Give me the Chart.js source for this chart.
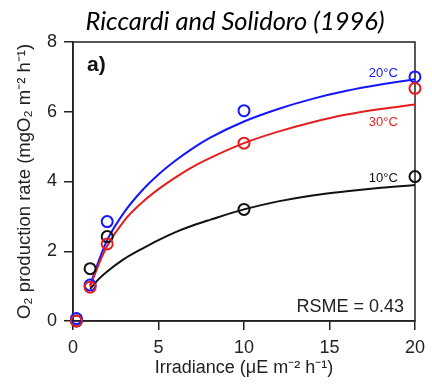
<!DOCTYPE html>
<html>
<head>
<meta charset="utf-8">
<script src="https://cdn.jsdelivr.net/npm/chart.js@4.4.1/dist/chart.umd.min.js"></script>
<style>
  html, body { margin: 0; padding: 0; background: #fff; }
  #wrap { width: 432px; height: 386px; }
</style>
</head>
<body>
<div id="wrap"><canvas id="chart" width="432" height="386"></canvas></div>
<script>
// observed points (irradiance vs O2 production)
const obsX = [0.2, 1, 2, 10, 20];
const obs10 = [0.0, 1.5, 2.42, 3.2, 4.14];
const obs20 = [0.07, 1.03, 2.85, 6.03, 7.0];
const obs30 = [0.0, 0.97, 2.21, 5.1, 6.67];

// fitted curves
const fitX = [1, 1.5, 2, 3, 4, 5, 6, 7, 8, 10, 12, 14, 16, 18, 20];
const fit10 = [0.92, 1.2, 1.42, 1.78, 2.06, 2.32, 2.55, 2.74, 2.9, 3.2, 3.43, 3.6, 3.72, 3.82, 3.9];
const fit20 = [1.02, 1.72, 2.32, 3.12, 3.72, 4.2, 4.6, 4.95, 5.25, 5.72, 6.08, 6.37, 6.6, 6.78, 6.93];
const fit30 = [0.98, 1.62, 2.15, 2.88, 3.38, 3.78, 4.12, 4.42, 4.67, 5.1, 5.43, 5.7, 5.92, 6.08, 6.21];

const xTicks = [0, 5, 10, 15, 20];
const yTicks = [0, 2, 4, 6, 8];

const BLUE = "#1414ff";
const RED = "#e41e1e";
const BLACK = "#111111";
const FONT = "'Liberation Sans', Arial, sans-serif";

function pts(xs, ys) {
    return xs.map((x, i) => ({ x: x, y: ys[i] }));
}

function curve(data, color, order) {
    return {
        type: "line",
        data: data,
        borderColor: color,
        borderWidth: 2,
        pointRadius: 0,
        fill: false,
        cubicInterpolationMode: "monotone",
        order: order
    };
}

function circles(data, color, order) {
    return {
        type: "scatter",
        data: data,
        borderColor: color,
        backgroundColor: "rgba(0,0,0,0)",
        pointRadius: 5.5,
        pointBorderWidth: 2,
        clip: false,
        order: order
    };
}

// box, title and text labels
const decor = {
    id: "decor",
    beforeDatasetsDraw(chart) {
        const { ctx, chartArea: a } = chart;
        ctx.save();
        ctx.strokeStyle = "#222";
        ctx.lineWidth = 1.5;
        ctx.strokeRect(a.left, a.top, a.right - a.left, a.bottom - a.top);
        ctx.restore();
    },
    afterDatasetsDraw(chart) {
        const { ctx, chartArea: a, scales } = chart;
        const xs = scales.x, ys = scales.y;
        ctx.save();
        ctx.fillStyle = "#000";
        ctx.font = "italic 25.5px Lato, 'Open Sans', sans-serif";
        ctx.textAlign = "center";
        ctx.textBaseline = "alphabetic";
        ctx.fillText("Riccardi and Solidoro (1996)", 235, 30);

        ctx.font = "bold 21px " + FONT;
        ctx.textAlign = "left";
        ctx.fillStyle = "#111";
        ctx.fillText("a)", a.left + 14, a.top + 29);

        ctx.font = "18px " + FONT;
        ctx.textAlign = "right";
        ctx.fillStyle = "#222";
        ctx.fillText("RSME = 0.43", a.right - 11, a.bottom - 9);

        ctx.font = "13px " + FONT;
        [["20°C", 7.0, BLUE], ["30°C", 5.6, RED], ["10°C", 4.0, BLACK]].forEach(([t, y, c]) => {
            ctx.fillStyle = c;
            ctx.fillText(t, xs.getPixelForValue(19), ys.getPixelForValue(y));
        });
        ctx.restore();
    }
};

const axisStyle = {
    border: { display: true, color: "#222", width: 1.5 },
    grid: { display: true, drawOnChartArea: false, drawTicks: true, tickLength: 9, color: "#222", lineWidth: 1.5 },
    ticks: { color: "#222", padding: 7, font: { family: FONT, size: 18 } }
};

const ctx = document.getElementById("chart").getContext("2d");
new Chart(ctx, {
    data: {
        datasets: [
            circles(pts(obsX, obs30), RED, 0),
            circles(pts(obsX, obs20), BLUE, 1),
            circles(pts(obsX, obs10), BLACK, 2),
            curve(pts(fitX, fit30), RED, 3),
            curve(pts(fitX, fit20), BLUE, 4),
            curve(pts(fitX, fit10), BLACK, 5)
        ]
    },
    options: {
        responsive: false,
        animation: false,
        layout: { padding: { top: 42, right: 13, bottom: 0, left: 0 } },
        plugins: {
            legend: { display: false },
            tooltip: { enabled: false },
            title: { display: false }
        },
        scales: {
            x: {
                type: "linear",
                min: 0,
                max: 20,
                border: axisStyle.border,
                grid: axisStyle.grid,
                ticks: Object.assign({}, axisStyle.ticks, { stepSize: 5, maxRotation: 0 }),
                afterBuildTicks: (s) => { s.ticks = xTicks.map(v => ({ value: v })); },
                afterFit: (s) => { s.height = 65; },
                title: {
                    display: true,
                    text: "Irradiance (μE m⁻² h⁻¹)",
                    color: "#222",
                    font: { family: FONT, size: 18 },
                    padding: { top: 0, bottom: 7 }
                }
            },
            y: {
                type: "linear",
                min: 0,
                max: 8,
                border: axisStyle.border,
                grid: axisStyle.grid,
                ticks: Object.assign({}, axisStyle.ticks, { stepSize: 2 }),
                afterBuildTicks: (s) => { s.ticks = yTicks.map(v => ({ value: v })); },
                afterFit: (s) => { s.width = 73; },
                title: {
                    display: true,
                    text: "O₂ production rate (mgO₂ m⁻² h⁻¹)",
                    color: "#222",
                    font: { family: FONT, size: 18.5 },
                    padding: { top: 14, bottom: 0 }
                }
            }
        }
    },
    plugins: [decor]
});
</script>
</body>
</html>
